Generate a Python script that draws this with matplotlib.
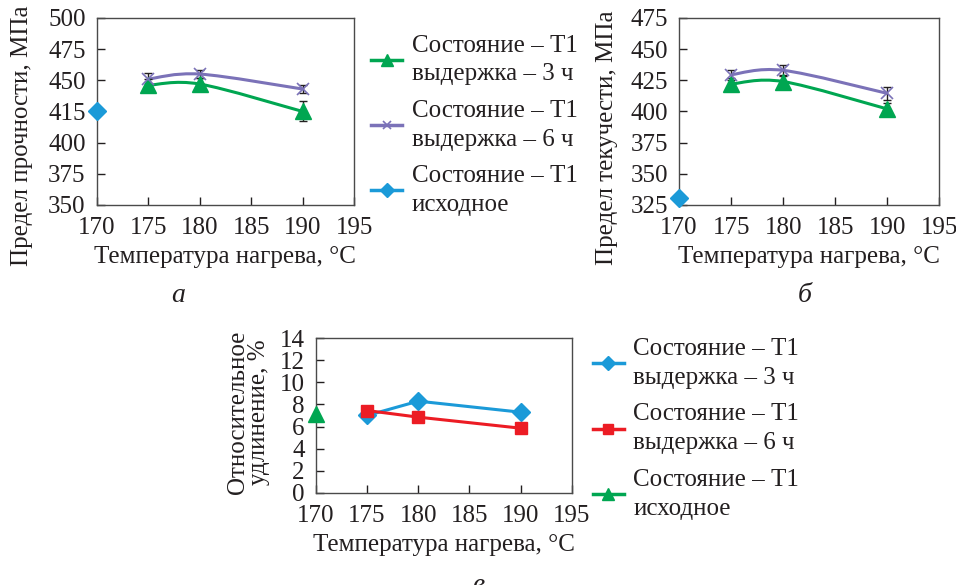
import matplotlib
matplotlib.use("Agg")
import matplotlib.pyplot as plt
from matplotlib.path import Path
from matplotlib.patches import PathPatch

plt.rcParams["font.family"] = ["Liberation Serif", "DejaVu Serif"]
plt.rcParams["text.color"] = "#231f20"
plt.rcParams["axes.labelcolor"] = "#231f20"

GREEN = "#00a651"
PURPLE = "#7b72b8"
BLUE = "#1b9ad8"
RED = "#ec1c24"
INK = "#231f20"

TEMPS = [175, 180, 190]
T_INIT = [170]

# a: ultimate strength, MPa
UTS_3H = [446, 447, 425]
UTS_3H_ERR = [5, 5, 8]
UTS_6H = [451, 455, 443]
UTS_6H_ERR = [5, 3, 3]
UTS_INIT = [425]
UTS_TICKS = [350, 375, 400, 425, 450, 475, 500]
UTS_TICK_LABELS = ["350", "375", "400", "415", "450", "475", "500"]

# b: yield strength, MPa
YS_3H = [422, 424, 402]
YS_3H_ERR = [5, 5, 4.5]
YS_6H = [429.5, 433, 414.5]
YS_6H_ERR = [4, 4.5, 5.5]
YS_INIT = [331]
YS_TICKS = [325, 350, 375, 400, 425, 450, 475]

# c: elongation, %
EL_3H = [7.0, 8.3, 7.3]
EL_6H = [7.45, 6.85, 5.85]
EL_INIT = [7.1]
EL_TICKS = [0, 2, 4, 6, 8, 10, 12, 14]

X_TICKS = [170, 175, 180, 185, 190, 195]

LBL_3H = "Состояние – Т1\nвыдержка – 3 ч"
LBL_6H = "Состояние – Т1\nвыдержка – 6 ч"
LBL_INIT = "Состояние – Т1\nисходное"

FS = 18


def smooth_line(ax, xs, ys, color):
    # Excel-like smoothed line: Catmull-Rom segments as cubic Beziers
    pts = list(zip(xs, ys))
    ext = [pts[0]] + pts + [pts[-1]]
    verts = [pts[0]]
    codes = [Path.MOVETO]
    for i in range(1, len(ext) - 2):
        p0, p1, p2, p3 = ext[i - 1], ext[i], ext[i + 1], ext[i + 2]
        c1 = (p1[0] + (p2[0] - p0[0]) / 6, p1[1] + (p2[1] - p0[1]) / 6)
        c2 = (p2[0] - (p3[0] - p1[0]) / 6, p2[1] - (p3[1] - p1[1]) / 6)
        verts += [c1, c2, p2]
        codes += [Path.CURVE4] * 3
    ax.add_patch(PathPatch(Path(verts, codes), fill=False, edgecolor=color, lw=2.2, zorder=2))


def style_axes(ax, yticks, ylim):
    ax.set_xlim(170, 195)
    ax.set_ylim(*ylim)
    ax.set_xticks(X_TICKS)
    ax.set_yticks(yticks)
    ax.tick_params(direction="in", length=6, width=1, labelsize=FS, colors=INK)
    ax.tick_params(axis="x", pad=9)
    ax.tick_params(axis="y", pad=8)
    for s in ax.spines.values():
        s.set_color("#4a4a4a")
        s.set_linewidth(1.0)
    ax.set_xlabel("Температура нагрева, °С", fontsize=FS, labelpad=5)


def add_legend(handles, labels, anchor):
    leg = fig.legend(handles, labels, loc="upper left", bbox_to_anchor=anchor,
                     frameon=False, fontsize=FS, handlelength=1.25, handletextpad=0.38,
                     labelspacing=0.58, borderpad=0, borderaxespad=0)
    for t in leg.get_texts():
        t.set_linespacing(1.4)
    return leg


fig = plt.figure(figsize=(9.56, 5.85), dpi=100)

# ---- a
ax1 = fig.add_axes([0.1012, 0.6496, 0.2692, 0.3197])
smooth_line(ax1, TEMPS, UTS_3H, GREEN)
smooth_line(ax1, TEMPS, UTS_6H, PURPLE)
ax1.errorbar(TEMPS, UTS_3H, yerr=UTS_3H_ERR, fmt="none", ecolor=INK, elinewidth=1, capsize=3, zorder=3)
ax1.errorbar(TEMPS, UTS_6H, yerr=UTS_6H_ERR, fmt="none", ecolor=INK, elinewidth=1, capsize=3, zorder=3)
ax1.plot(TEMPS, UTS_3H, ls="none", marker="^", ms=12, color=GREEN, zorder=4)
ax1.plot(TEMPS, UTS_6H, ls="none", marker="x", ms=8, mew=1.2, color=PURPLE, zorder=4)
ax1.plot(T_INIT, UTS_INIT, ls="none", marker="D", ms=9, color=BLUE, zorder=4, clip_on=False)
style_axes(ax1, UTS_TICKS, (350, 500))
ax1.set_yticklabels(UTS_TICK_LABELS)
ax1.set_ylabel("Предел прочности, МПа", fontsize=FS)
ax1.yaxis.set_label_coords(-0.248, 0.369)

leg_h = [
    plt.Line2D([], [], color=GREEN, lw=2.5, marker="^", ms=9),
    plt.Line2D([], [], color=PURPLE, lw=2.5, marker="x", ms=6, mew=1.2),
    plt.Line2D([], [], color=BLUE, lw=2.5, marker="D", ms=7),
]
add_legend(leg_h, [LBL_3H, LBL_6H, LBL_INIT], (0.388, 0.941))

fig.text(0.186, 0.483, "а", fontsize=FS + 2, style="italic", ha="center")

# ---- b
ax2 = fig.add_axes([0.7103, 0.6496, 0.2723, 0.3197])
smooth_line(ax2, TEMPS, YS_3H, GREEN)
smooth_line(ax2, TEMPS, YS_6H, PURPLE)
ax2.errorbar(TEMPS, YS_3H, yerr=YS_3H_ERR, fmt="none", ecolor=INK, elinewidth=1, capsize=3, zorder=3)
ax2.errorbar(TEMPS, YS_6H, yerr=YS_6H_ERR, fmt="none", ecolor=INK, elinewidth=1, capsize=3, zorder=3)
ax2.plot(TEMPS, YS_3H, ls="none", marker="^", ms=12, color=GREEN, zorder=4)
ax2.plot(TEMPS, YS_6H, ls="none", marker="x", ms=8, mew=1.2, color=PURPLE, zorder=4)
ax2.plot(T_INIT, YS_INIT, ls="none", marker="D", ms=9, color=BLUE, zorder=4, clip_on=False)
style_axes(ax2, YS_TICKS, (325, 475))
ax2.set_ylabel("Предел текучести, МПа", fontsize=FS)
ax2.yaxis.set_label_coords(-0.234, 0.358)

fig.text(0.842, 0.483, "б", fontsize=FS + 2, style="italic", ha="center")

# ---- c
ax3 = fig.add_axes([0.3305, 0.1578, 0.2675, 0.2639])
ax3.plot(TEMPS, EL_3H, color=BLUE, lw=2.2, marker="D", ms=9, zorder=3)
ax3.plot(TEMPS, EL_6H, color=RED, lw=2.2, marker="s", ms=9, zorder=4)
ax3.plot(T_INIT, EL_INIT, ls="none", marker="^", ms=12, color=GREEN, zorder=4, clip_on=False)
style_axes(ax3, EL_TICKS, (0, 14))
ax3.set_ylabel("Относительное\nудлинение, %", fontsize=FS, linespacing=0.95)
ax3.yaxis.set_label_coords(-0.18, 0.52)

leg_h3 = [
    plt.Line2D([], [], color=BLUE, lw=2.5, marker="D", ms=7),
    plt.Line2D([], [], color=RED, lw=2.5, marker="s", ms=7),
    plt.Line2D([], [], color=GREEN, lw=2.5, marker="^", ms=9),
]
add_legend(leg_h3, [LBL_3H, LBL_6H, LBL_INIT], (0.620, 0.422))

fig.text(0.5, -0.012, "в", fontsize=FS + 2, style="italic", ha="center")

fig.savefig("out.png", dpi=100)
